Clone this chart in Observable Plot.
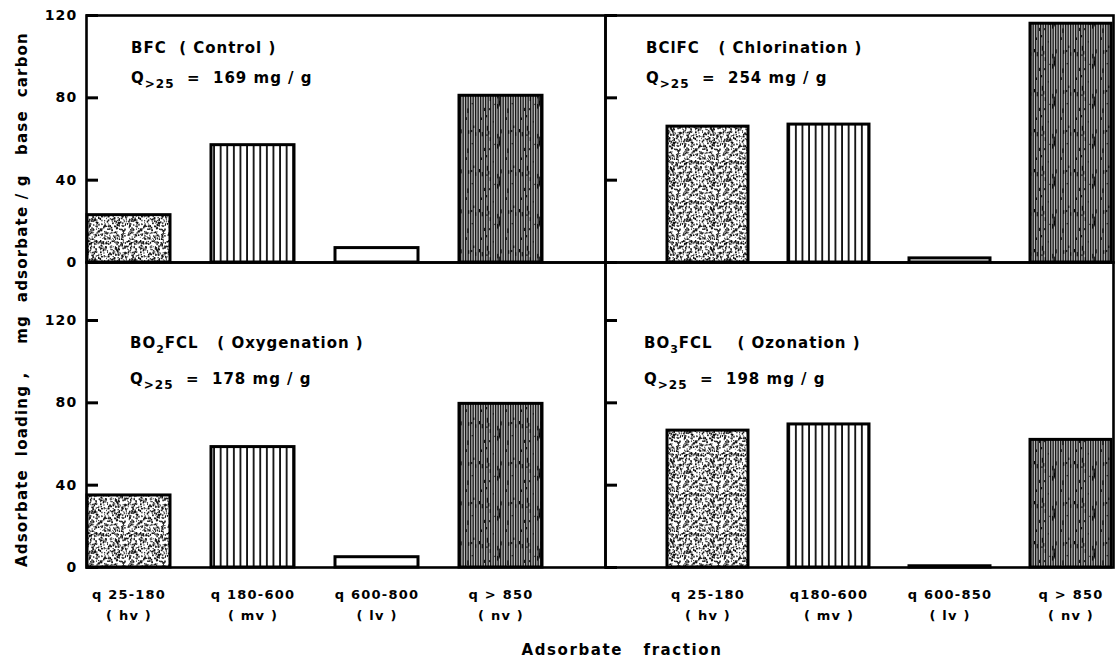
<!DOCTYPE html>
<html><head><meta charset="utf-8">
<script src="https://cdn.jsdelivr.net/npm/d3@7"></script>
<script src="https://cdn.jsdelivr.net/npm/@observablehq/plot@0.6"></script>
<style>
html,body{margin:0;padding:0;background:#fff;overflow:hidden;}
#chart{position:relative;width:1115px;height:661px;font-family:"DejaVu Sans",sans-serif;font-weight:bold;}
#chart > svg{position:absolute;}
</style></head><body>
<svg width="0" height="0" style="position:absolute"><defs id="pdefs"></defs></svg>
<div id="chart"></div>
<script>
// ---------- data ----------
const fractions = ["hv", "mv", "lv", "nv"];
const bfcValues    = [23, 57, 7, 81];        // BFC (Control)
const bclfcValues  = [66, 67, 2, 116];       // BClFC (Chlorination)
const bo2fclValues = [35, 58.5, 5, 79.5];    // BO2FCL (Oxygenation)
const bo3fclValues = [66.5, 69.5, 0.6, 62];  // BO3FCL (Ozonation)
const qTotals = [169, 254, 178, 198];
const leftTickLabels  = ["q 25-180", "q 180-600", "q 600-800", "q > 850"];
const rightTickLabels = ["q 25-180", "q180-600", "q 600-850", "q > 850"];
const fractionCodes   = ["( hv )", "( mv )", "( lv )", "( nv )"];
const yTickValues = [0, 40, 80, 120];
const panelTitles = [
  [["BFC  ( Control )", ""]],
  [["BClFC   ( Chlorination )", ""]],
  [["BO", ""], ["2", "sub"], ["FCL   ( Oxygenation )", ""]],
  [["BO", ""], ["3", "sub"], ["FCL    ( Ozonation )", ""]]
];
const yTitleParts = ["Adsorbate  loading ,", "mg  adsorbate / g   base  carbon"];
const xTitle = "Adsorbate   fraction";

// ---------- patterns (texture only) ----------
const defs = d3.select("#pdefs");
{
  let seed = 12345;
  const rnd = () => (seed = (seed * 16807) % 2147483647) / 2147483647;
  const s = 40;
  const st = defs.append("pattern").attr("id", "stipple").attr("patternUnits", "userSpaceOnUse").attr("width", s).attr("height", s);
  st.append("rect").attr("width", s).attr("height", s).attr("fill", "#fff");
  for (let i = 0; i < 460; i++) {
    st.append("rect").attr("x", rnd() * s).attr("y", rnd() * s)
      .attr("width", 0.6 + rnd() * 1.1).attr("height", 0.6 + rnd() * 1.5).attr("fill", "#111");
  }
  const vl = defs.append("pattern").attr("id", "vlines").attr("patternUnits", "userSpaceOnUse").attr("width", 6.6).attr("height", 10);
  vl.append("rect").attr("width", 6.6).attr("height", 10).attr("fill", "#fff");
  vl.append("rect").attr("x", 2).attr("width", 1.7).attr("height", 10).attr("fill", "#000");
  const w = 40;
  const dn = defs.append("pattern").attr("id", "dense").attr("patternUnits", "userSpaceOnUse").attr("width", w).attr("height", w);
  dn.append("rect").attr("width", w).attr("height", w).attr("fill", "#bbb");
  for (let x = 0; x < w; x += 2.5) dn.append("rect").attr("x", x).attr("width", 1.3).attr("height", w).attr("fill", "#1a1a1a");
  for (let i = 0; i < 25; i++) {
    dn.append("rect").attr("x", rnd() * w).attr("y", rnd() * w).attr("width", 1).attr("height", 1 + rnd() * 4).attr("fill", "#000");
  }
}
const fills = {hv: "url(#stipple)", mv: "url(#vlines)", lv: "#fff", nv: "url(#dense)"};

// ---------- panels ----------
const chart = document.getElementById("chart");
function panel({values, left, top, width, height, margin, xRange, yDomain, ticks, yLabels, xLabels, title, q, t1, t2, tx}) {
  const data = fractions.map((f, i) => ({frac: f, value: values[i]}));
  const plotW = width - margin.left - margin.right;
  const marks = [
    Plot.barY(data, {x: "frac", y: "value", fill: d => fills[d.frac], stroke: "#000", strokeWidth: 3}),
    Plot.ruleY(ticks, {stroke: "#000", strokeWidth: 3, insetRight: plotW - 12}),
    Plot.frame({stroke: "#000", strokeWidth: 2.6})
  ];
  if (yLabels) marks.push(Plot.axisY(yLabels, {anchor: "left", tickSize: 0, tickPadding: 9, fontSize: 14, fontWeight: "bold", label: null}));
  if (xLabels) marks.push(Plot.axisX({anchor: "bottom", tickSize: 0, tickPadding: 17, fontSize: 13, fontWeight: "bold", lineHeight: 1.6, label: null,
    tickFormat: d => xLabels[fractions.indexOf(d)] + "\n" + fractionCodes[fractions.indexOf(d)]}));
  const svg = Plot.plot({
    width, height,
    marginLeft: margin.left, marginRight: margin.right, marginTop: margin.top, marginBottom: margin.bottom,
    style: {background: "none", fontFamily: "DejaVu Sans, sans-serif", fontWeight: "bold", overflow: "visible", letterSpacing: "1.2px"},
    x: {domain: fractions, range: xRange, paddingInner: 0.33, paddingOuter: 0, axis: null},
    y: {domain: yDomain, axis: null},
    color: {type: "identity"},
    marks
  });
  svg.style.left = left + "px";
  svg.style.top = top + "px";
  const g = d3.select(svg);
  const l1 = g.append("text").attr("x", tx).attr("y", t1).attr("text-anchor", "start").attr("font-size", 15).attr("letter-spacing", "1px").attr("fill", "#000").style("white-space", "pre");
  title.forEach(([s, k], i) => {
    const ts = l1.append("tspan").text(s);
    if (k === "sub") ts.attr("font-size", 11).attr("dy", 5);
    else if (i > 0) ts.attr("dy", -5);
  });
  const l2 = g.append("text").attr("x", tx).attr("y", t2).attr("text-anchor", "start").attr("font-size", 15).attr("letter-spacing", "1px").attr("fill", "#000").style("white-space", "pre");
  l2.append("tspan").text("Q");
  l2.append("tspan").attr("font-size", 12).attr("dy", 5).text(">25");
  l2.append("tspan").attr("dy", -5).text("  =  " + q + " mg / g");
  chart.appendChild(svg);
}

const topM = {left: 86, right: 10, top: 15, bottom: 10};
const botM = {left: 86, right: 10, top: 10, bottom: 94};
const rTopM = {left: 10, right: 2, top: 15, bottom: 10};
const rBotM = {left: 10, right: 2, top: 10, bottom: 94};
// bottom panels: 120 sits 247 px above 0, panel top 305 px above 0
const botMax = 120 * 305 / 247;

panel({values: bfcValues, left: 0, top: 0, width: 615, height: 272, margin: topM, xRange: [86, 544],
  yDomain: [0, 120], ticks: yTickValues, yLabels: yTickValues, title: panelTitles[0], q: qTotals[0], t1: 53, t2: 83, tx: 131});
panel({values: bclfcValues, left: 595, top: 0, width: 520, height: 272, margin: rTopM, xRange: [71, 518],
  yDomain: [0, 120], ticks: yTickValues, title: panelTitles[1], q: qTotals[1], t1: 53, t2: 83, tx: 51});
panel({values: bo2fclValues, left: 0, top: 252, width: 615, height: 409, margin: botM, xRange: [86, 544],
  yDomain: [0, botMax], ticks: yTickValues, yLabels: yTickValues, xLabels: leftTickLabels, title: panelTitles[2], q: qTotals[2], t1: 96, t2: 132, tx: 130});
panel({values: bo3fclValues, left: 595, top: 252, width: 520, height: 409, margin: rBotM, xRange: [71, 518],
  yDomain: [0, botMax], ticks: yTickValues, xLabels: rightTickLabels, title: panelTitles[3], q: qTotals[3], t1: 96, t2: 132, tx: 49});

// ---------- axis titles ----------
const ov = d3.select(chart).append("svg").attr("width", 1115).attr("height", 661).style("left", "0px").style("top", "0px")
  .style("font-family", "DejaVu Sans, sans-serif").style("font-weight", "bold").style("pointer-events", "none");
ov.append("text").attr("transform", "translate(27,567) rotate(-90)").attr("text-anchor", "start").attr("font-size", 15)
  .attr("letter-spacing", "1.2px").style("white-space", "pre").text(yTitleParts[0]);
ov.append("text").attr("transform", "translate(27,32) rotate(-90)").attr("text-anchor", "end").attr("font-size", 15)
  .attr("letter-spacing", "1.2px").style("white-space", "pre").text(yTitleParts[1]);
ov.append("text").attr("x", 622).attr("y", 655).attr("text-anchor", "middle").attr("font-size", 15)
  .attr("letter-spacing", "1.6px").style("white-space", "pre").text(xTitle);
</script>
</body></html>
